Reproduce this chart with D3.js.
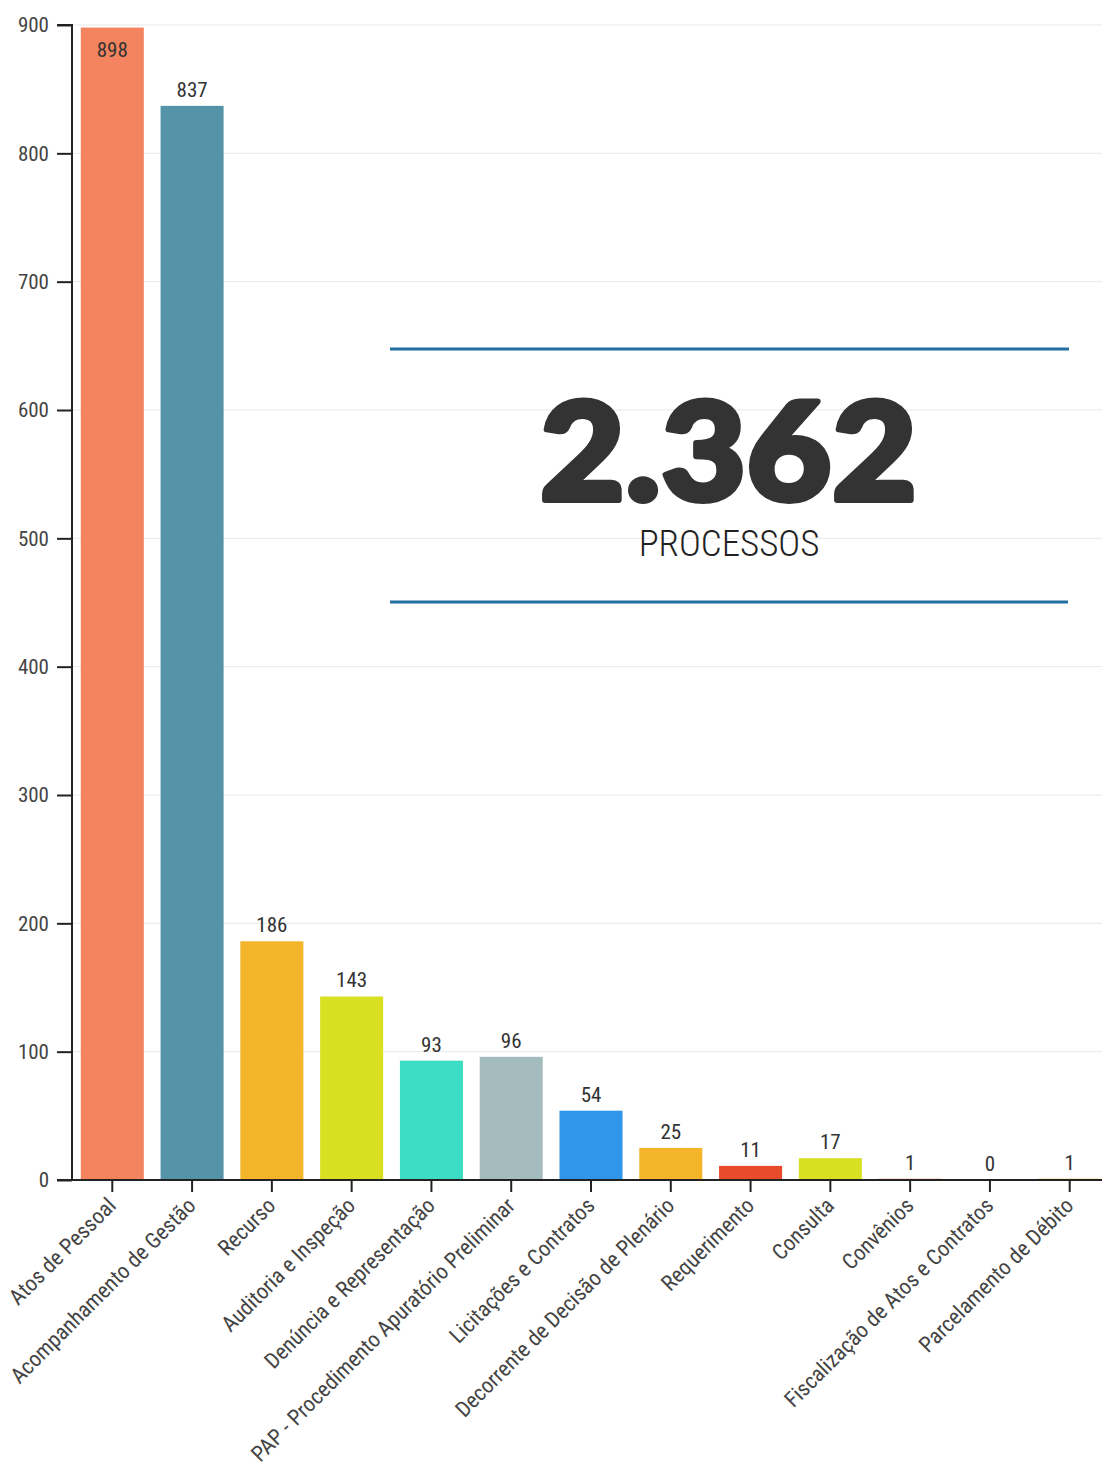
<!DOCTYPE html>
<html>
<head>
<meta charset="utf-8">
<script src="https://cdn.jsdelivr.net/npm/d3@7"></script>
<style>
  html, body { margin: 0; padding: 0; background: #fff; }
  svg { display: block; }
  .tick text { font-family: "Roboto Condensed", "Liberation Sans Narrow", Roboto, sans-serif; }
</style>
</head>
<body>
<svg id="chart" width="1102" height="1479"></svg>
<script>
// Processes by type
const categories = [
  "Atos de Pessoal",
  "Acompanhamento de Gestão",
  "Recurso",
  "Auditoria e Inspeção",
  "Denúncia e Representação",
  "PAP - Procedimento Apuratório Preliminar",
  "Licitações e Contratos",
  "Decorrente de Decisão de Plenário",
  "Requerimento",
  "Consulta",
  "Convênios",
  "Fiscalização de Atos e Contratos",
  "Parcelamento de Débito"
];
const values = [898, 837, 186, 143, 93, 96, 54, 25, 11, 17, 1, 0, 1];
const colors = ["#f4845f", "#5594a8", "#f5b52b", "#d9e022", "#3ddcc4", "#a5bcbe",
                "#2f96ea", "#f5b52b", "#ea4a2c", "#d9e022", "#f4845f", "#5594a8", "#f5b52b"];
const yTicks = [0, 100, 200, 300, 400, 500, 600, 700, 800, 900];
const totalLabel = "2.362";
const totalCaption = "PROCESSOS";

const font = '"Roboto Condensed", "Liberation Sans Narrow", Roboto, sans-serif';
const svg = d3.select("#chart");

const mLeft = 72, mTop = 25, mBottom = 1180, mRight = 1102;

const x = d3.scaleBand()
  .domain(categories)
  .range([mLeft, 1110])
  .paddingInner(0.21)
  .paddingOuter(0.11);

const y = d3.scaleLinear()
  .domain([0, 900])
  .range([mBottom, mTop]);

// horizontal gridlines
svg.append("g")
  .selectAll("line")
  .data(yTicks.filter(d => d > 0))
  .join("line")
  .attr("x1", mLeft).attr("x2", mRight)
  .attr("y1", d => y(d)).attr("y2", d => y(d))
  .attr("stroke", "#e8e8e8")
  .attr("stroke-width", 1);

// bars
const data = categories.map((c, i) => ({ c, v: values[i], color: colors[i] }));
svg.append("g")
  .selectAll("rect")
  .data(data)
  .join("rect")
  .attr("x", d => x(d.c))
  .attr("width", x.bandwidth())
  .attr("y", d => y(d.v))
  .attr("height", d => y(0) - y(d.v))
  .attr("fill", d => d.color);

// value labels (placed inside the bar when there is no room above it)
svg.append("g")
  .selectAll("text")
  .data(data)
  .join("text")
  .attr("x", d => x(d.c) + x.bandwidth() / 2)
  .attr("y", d => {
    const yy = y(d.v) - 9;
    return yy < mTop + 12 ? y(d.v) + 29 : yy;
  })
  .attr("text-anchor", "middle")
  .attr("font-family", font)
  .attr("font-size", 21)
  .attr("fill", "#333")
  .text(d => d.v);

// y axis
const yAxis = svg.append("g")
  .attr("transform", `translate(${mLeft},0)`)
  .call(d3.axisLeft(y).tickValues(yTicks).tickSize(15).tickPadding(8).tickFormat(d3.format("d")));
yAxis.select(".domain").attr("stroke", "#222").attr("stroke-width", 2)
  .attr("d", `M-15,${mTop}H0V${mBottom}`);
yAxis.selectAll(".tick line").attr("stroke", "#222").attr("stroke-width", 2);
yAxis.selectAll(".tick text").attr("font-size", 21).attr("fill", "#444");

// x axis
const xAxis = svg.append("g")
  .attr("transform", `translate(0,${mBottom})`)
  .call(d3.axisBottom(x).tickSize(12).tickSizeOuter(0));
xAxis.select(".domain").attr("stroke", "#222").attr("stroke-width", 2)
  .attr("d", `M${mLeft - 15},0H${mRight}`);
xAxis.selectAll(".tick line").attr("stroke", "#222").attr("stroke-width", 2);
xAxis.selectAll(".tick text")
  .attr("font-size", 22)
  .attr("fill", "#444")
  .attr("text-anchor", "end")
  .attr("x", 0).attr("y", 0).attr("dy", 0)
  .attr("transform", "translate(5,27) rotate(-45)");

// total callout
const cx = 729;
svg.append("line")
  .attr("x1", 390).attr("x2", 1069).attr("y1", 349).attr("y2", 349)
  .attr("stroke", "#2370a0").attr("stroke-width", 3);
svg.append("line")
  .attr("x1", 390).attr("x2", 1068).attr("y1", 602).attr("y2", 602)
  .attr("stroke", "#2370a0").attr("stroke-width", 3);

svg.append("text")
  .attr("transform", `translate(${cx},500) scale(1.07,1)`)
  .attr("text-anchor", "middle")
  .attr("font-family", "Lato, 'Open Sans', sans-serif")
  .attr("font-weight", 900)
  .attr("font-size", 136)
  .attr("letter-spacing", 1)
  .attr("fill", "#333")
  .attr("stroke", "#333")
  .attr("stroke-width", 6)
  .attr("stroke-linejoin", "round")
  .text(totalLabel);

svg.append("text")
  .attr("x", cx).attr("y", 556)
  .attr("text-anchor", "middle")
  .attr("font-family", font)
  .attr("font-weight", 300)
  .attr("font-size", 37)
  .attr("fill", "#222")
  .text(totalCaption);
</script>
</body>
</html>
